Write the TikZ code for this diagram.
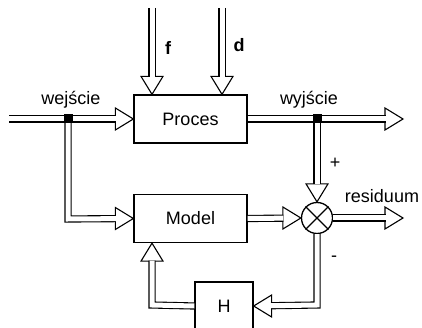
\documentclass[tikz,border=0pt]{standalone}
\usepackage{fontspec}
\setmainfont{Liberation Sans}
\begin{document}
\begin{tikzpicture}[x=1pt,y=-1pt,
  blk/.style={draw, line width=1.3pt, minimum width=113pt, minimum height=48pt, inner sep=0pt, font=\fontsize{18}{18}\selectfont},
  dbl/.style={draw, double=white, double distance=5pt, line width=1.1pt, line cap=butt, line join=miter},
  shaft/.style={dbl, shorten >=17.4pt},
  lbl/.style={font=\fontsize{18}{18}\selectfont, inner sep=0pt},
  pics/ahead/.style={code={\draw[fill=white, line width=1.1pt, line join=miter] (0,0) -- (-18,-11) -- (-18,11) -- cycle;}}
]
\useasboundingbox (0,0) rectangle (422,328);
% blocks
\node[blk] (proces) at (190.5,119) {Proces};
\node[blk] (model) at (190.5,218.5) {Model};
\node[blk, minimum width=58pt] (h) at (224,306) {H};
\node[draw, circle, line width=1.3pt, minimum size=31pt, inner sep=0pt] (sum) at (317,218) {};
\draw[line width=1.1pt] (sum.north west) -- (sum.south east) (sum.north east) -- (sum.south west);
% coordinates
\coordinate (fin) at (152,8);
\coordinate (din) at (222,8);
\coordinate (in) at (9,119);
\coordinate (jin) at (68,119);
\coordinate (cin) at (68,219);
\coordinate (out) at (403,119);
\coordinate (jout) at (317,119);
\coordinate (res) at (403,218);
\coordinate (cfb) at (317,305);
\coordinate (hl) at (152,305);
% arrow heads
\pic[rotate=-90] at (proces.north -| fin) {ahead};
\pic[rotate=-90] at (proces.north -| din) {ahead};
\pic at (proces.west) {ahead};
\pic at (model.west) {ahead};
\pic at (out) {ahead};
\pic[rotate=-90] at (sum.north) {ahead};
\pic at (sum.west) {ahead};
\pic at (res) {ahead};
\pic[rotate=180] at (h.east) {ahead};
\pic[rotate=90] at (model.south -| hl) {ahead};
% shafts
\draw[shaft] (jin) -- (cin) -- (model.west);
\draw[shaft] (fin) -- (proces.north -| fin);
\draw[shaft] (din) -- (proces.north -| din);
\draw[shaft] (in) -- (proces.west);
\draw[shaft] (jout) -- (sum.north);
\draw[shaft] (proces.east) -- (out);
\draw[shaft] (model.east) -- (sum.west);
\draw[shaft] (sum.east) -- (res);
\draw[shaft] (sum.south) -- (cfb) -- (h.east);
\draw[shaft] (h.west) -- (hl) -- (model.south -| hl);
% junction dots
\fill (jin) ++(-4.5,-4.5) rectangle ++(9,9);
\fill (jout) ++(-4.5,-4.5) rectangle ++(9,9);
% labels
\node[lbl, font=\fontsize{18}{18}\selectfont\bfseries] (lf) at (168,48) {f};
\node[lbl, font=\fontsize{18}{18}\selectfont\bfseries] (ld) at (239,45) {d};
\node[lbl] (lwe) at (71,100) {wejście};
\node[lbl] (lwy) at (309,100) {wyjście};
\node[lbl] (lres) at (382,196) {residuum};
\node[lbl] (lplus) at (335,163) {+};
\node[lbl] (lminus) at (334,259) {-};
\end{tikzpicture}
\end{document}
